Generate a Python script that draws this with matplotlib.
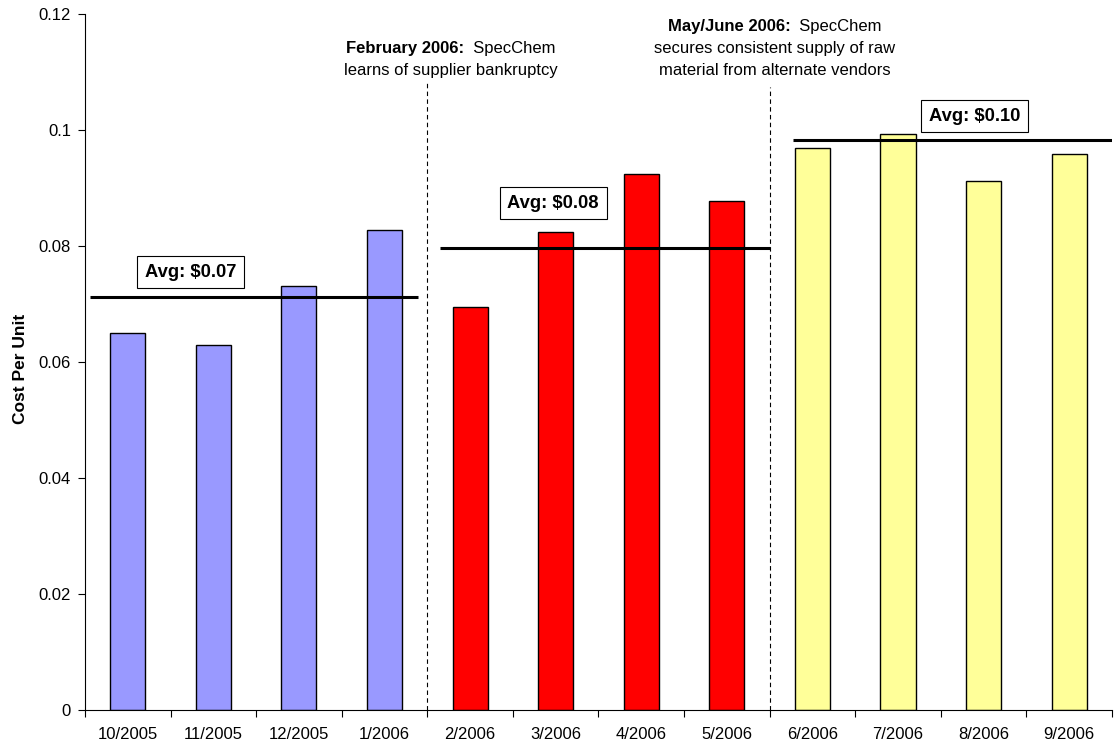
import numpy as np
import matplotlib
matplotlib.use("Agg")
import matplotlib.pyplot as plt
from matplotlib.offsetbox import TextArea, HPacker, VPacker, AnnotationBbox

plt.rcParams['font.family'] = ['Liberation Sans', 'DejaVu Sans']

# data
months = ["10/2005", "11/2005", "12/2005", "1/2006", "2/2006", "3/2006",
          "4/2006", "5/2006", "6/2006", "7/2006", "8/2006", "9/2006"]
cost = [0.065, 0.063, 0.0731, 0.0828, 0.0695, 0.0824,
        0.0924, 0.0878, 0.0969, 0.0993, 0.0912, 0.0959]
group = [0, 0, 0, 0, 1, 1, 1, 1, 2, 2, 2, 2]
group_colors = ["#9999FF", "#FF0000", "#FFFF99"]
group_avg = [0.0712, 0.0797, 0.0983]
avg_labels = ["Avg: \\$0.07", "Avg: \\$0.08", "Avg: \\$0.10"]

# layout bits
avg_spans = [(-0.44, 3.39), (3.65, 7.5), (7.77, 11.5)]
avg_box_pos = [(0.73, 0.0755), (4.97, 0.0874), (9.89, 0.1024)]

fig = plt.figure(figsize=(11.15, 7.46), dpi=100)
ax = fig.add_axes([0.0762, 0.0483, 0.9211, 0.9329])

x = np.arange(len(months))
colors = [group_colors[g] for g in group]
ax.bar(x, cost, width=0.41, color=colors, edgecolor="black", linewidth=1.0, zorder=2)

# average lines and labels
for (x0, x1), avg, lab, (bx, by) in zip(avg_spans, group_avg, avg_labels, avg_box_pos):
    ax.plot([x0, x1], [avg, avg], color="black", lw=2.2, zorder=3, solid_capstyle="butt")
    ax.text(bx, by, lab, ha="center", va="center", fontsize=13.2, fontweight="bold",
            bbox=dict(boxstyle="square,pad=0.42", fc="white", ec="black", lw=0.8), zorder=4)

# event separators
ax.plot([3.5, 3.5], [0, 0.1083], color="black", lw=0.8, ls=(0, (4, 3)), zorder=1)
ax.plot([7.5, 7.5], [0, 0.1075], color="black", lw=0.8, ls=(0, (4, 3)), zorder=1)


def note(xpos, ypos, bold, rest, more):
    props = dict(fontsize=12, color="black", family="Liberation Sans")
    first = HPacker(children=[TextArea(bold, textprops=dict(props, fontweight="bold")),
                              TextArea("  " + rest, textprops=props)],
                    align="baseline", pad=0, sep=0)
    lines = [first] + [TextArea(m, textprops=props) for m in more]
    box = VPacker(children=lines, align="center", pad=0, sep=5)
    ab = AnnotationBbox(box, (xpos, ypos), frameon=False, box_alignment=(0.5, 0.5),
                        annotation_clip=False)
    ax.add_artist(ab)


note(3.77, 0.1122, "February 2006:", "SpecChem", ["learns of supplier bankruptcy"])
note(7.56, 0.1141, "May/June 2006:", "SpecChem",
     ["secures consistent supply of raw", "material from alternate vendors"])

# axes styling
ax.set_xlim(-0.5, 11.5)
ax.set_ylim(0, 0.12)
ax.set_yticks([0, 0.02, 0.04, 0.06, 0.08, 0.1, 0.12])
ax.set_yticklabels(["0", "0.02", "0.04", "0.06", "0.08", "0.1", "0.12"])
ax.set_xticks(x)
ax.set_xticklabels(months)
ax.set_xticks(np.arange(-0.5, 12, 1), minor=True)
ax.tick_params(axis="x", which="major", length=0, pad=12, labelsize=12)
ax.tick_params(axis="x", which="minor", length=5, width=0.8, direction="out")
ax.tick_params(axis="y", length=5, width=0.8, direction="out", labelsize=12, pad=5)
ax.spines["top"].set_visible(False)
ax.spines["right"].set_visible(False)
ax.spines["left"].set_linewidth(0.8)
ax.spines["bottom"].set_linewidth(0.8)
ax.set_ylabel("Cost Per Unit", fontsize=12.5, fontweight="bold")
ax.yaxis.set_label_coords(-0.0555, 0.49)

fig.savefig("out.png", dpi=100)
